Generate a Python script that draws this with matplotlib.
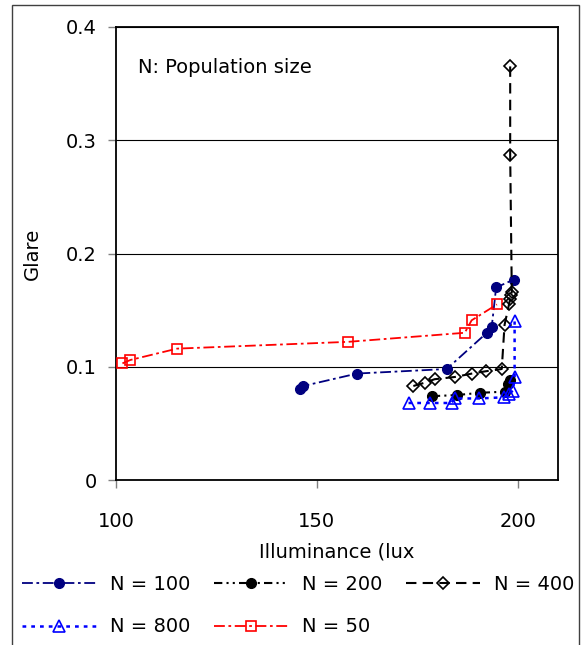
import matplotlib
matplotlib.use("Agg")
import matplotlib.pyplot as plt
from matplotlib.patches import Rectangle

plt.rcParams['font.family'] = ['DejaVu Sans']

# ---- data ----
n100_x = [145.8, 146.6, 160.0, 182.3, 192.3, 193.5, 194.6, 199.0]
n100_y = [0.080, 0.083, 0.094, 0.098, 0.130, 0.135, 0.170, 0.177]

n200_x = [178.6, 184.8, 190.6, 196.7, 197.5, 198.0]
n200_y = [0.074, 0.075, 0.077, 0.078, 0.085, 0.088]

n400_x = [174.0, 176.9, 179.3, 184.4, 188.6, 192.0, 196.0, 196.7, 197.8, 198.1, 198.3, 198.5, 198.1, 198.1]
n400_y = [0.083, 0.086, 0.089, 0.091, 0.094, 0.096, 0.098, 0.137, 0.155, 0.160, 0.163, 0.166, 0.287, 0.366]

n800_x = [172.8, 178.1, 183.5, 184.3, 190.3, 196.5, 197.8, 198.8, 199.2, 199.2]
n800_y = [0.068, 0.068, 0.068, 0.072, 0.072, 0.073, 0.076, 0.079, 0.091, 0.140]

n50_x = [101.6, 103.6, 115.2, 157.8, 186.8, 188.5, 194.8]
n50_y = [0.103, 0.106, 0.116, 0.122, 0.130, 0.141, 0.155]

x_ticks = [100, 150, 200]
y_ticks = [0, 0.1, 0.2, 0.3, 0.4]
y_tick_labels = ['0', '0.1', '0.2', '0.3', '0.4']

fig = plt.figure(figsize=(5.84, 6.45), dpi=100)
ax = fig.add_axes([116/584, 1-480/645, (558-116)/584, (480-27)/645])

fs = 14

h100, = ax.plot(n100_x, n100_y, color='#000080', ls=(0, (6, 2, 1.5, 2)), lw=1.3,
                marker='o', ms=7, mfc='#000080', mec='#000080', label='N = 100', zorder=3)
h200, = ax.plot(n200_x, n200_y, color='black', ls=(0, (4, 2, 1, 2, 1, 2)), lw=1.5,
                marker='o', ms=7, mfc='black', mec='black', label='N = 200', zorder=3)
h400, = ax.plot(n400_x, n400_y, color='black', ls=(0, (5, 3)), lw=1.5,
                marker='D', ms=6.5, mfc='none', mec='black', mew=1.2, label='N = 400', zorder=4)
h800, = ax.plot(n800_x, n800_y, color='#0000FF', ls=(0, (1.5, 2)), lw=1.8,
                marker='^', ms=8, mfc='none', mec='#0000FF', mew=1.2, label='N = 800', zorder=5)
h50, = ax.plot(n50_x, n50_y, color='#FF0000', ls=(0, (6, 2, 1.5, 2)), lw=1.3,
               marker='s', ms=7, mfc='none', mec='#FF0000', mew=1.2, label='N = 50', zorder=3)

ax.set_xlim(100, 210)
ax.set_ylim(0, 0.4)
ax.set_xticks(x_ticks)
ax.set_xticklabels([str(v) for v in x_ticks])
ax.set_yticks(y_ticks)
ax.set_yticklabels(y_tick_labels)
ax.tick_params(axis='both', labelsize=fs, direction='out', length=6, width=1,
               color='#808080')
ax.tick_params(axis='y', pad=8)
ax.tick_params(axis='x', pad=17)
ax.yaxis.grid(True, color='black', lw=0.8)
ax.set_axisbelow(True)
for s in ax.spines.values():
    s.set_color('black')
    s.set_linewidth(1.3)

ax.set_xlabel('Illuminance (lux', fontsize=fs, labelpad=8)
ax.set_ylabel('Glare', fontsize=fs, labelpad=17)

ax.text(0.05, 0.91, 'N: Population size', transform=ax.transAxes, fontsize=fs,
        ha='left', va='center')

handles = [h100, h800, h200, h50, h400]
leg = fig.legend(handles=handles, labels=[h.get_label() for h in handles],
                 loc='upper left', bbox_to_anchor=(22/584, 1-575/645), ncol=3,
                 frameon=False, fontsize=fs, handlelength=3.8, handletextpad=0.7,
                 columnspacing=1.25, labelspacing=1.2, borderpad=0, borderaxespad=0)

fig.add_artist(Rectangle((12/584, -0.1), (579-12)/584, 1-5/645+0.1,
                         transform=fig.transFigure, fill=False, ec='#404040',
                         lw=1, clip_on=False))

fig.savefig('out.png', dpi=100)
